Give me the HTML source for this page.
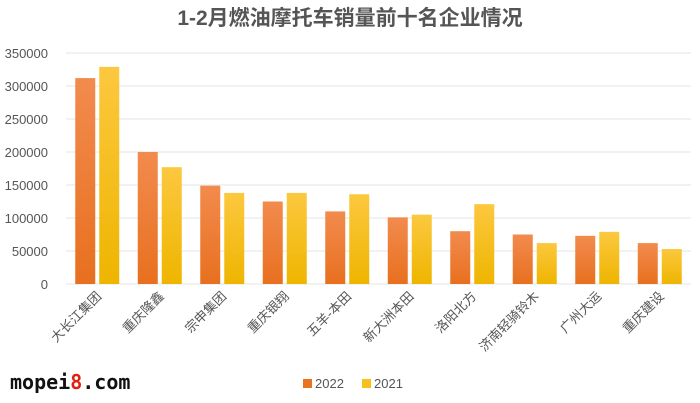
<!DOCTYPE html>
<html><head><meta charset="utf-8"><style>
body{margin:0;background:#fff;}
svg{display:block;font-family:"Liberation Sans","Noto Sans CJK SC",sans-serif;}
</style></head><body>
<svg id="c" width="700" height="403">
<defs>
<linearGradient id="go" x1="0" y1="0" x2="0" y2="1"><stop offset="0" stop-color="#f28b4e"/><stop offset="1" stop-color="#e8701f"/></linearGradient>
<linearGradient id="gy" x1="0" y1="0" x2="0" y2="1"><stop offset="0" stop-color="#fcc83f"/><stop offset="1" stop-color="#eeb500"/></linearGradient>
</defs>
<text x="350" y="25" text-anchor="middle" font-size="21" font-weight="bold" fill="#555">1-2月燃油摩托车销量前十名企业情况</text>
<g id="grid"></g><g id="bars"></g><g id="xl"></g>
<text x="10" y="389" font-family="'DejaVu Sans Mono',monospace" font-size="20" font-weight="bold" fill="#111">mopei<tspan fill="#e02010">8</tspan>.com</text>
<g>
<rect x="303" y="379" width="9" height="9" fill="#e8741f"/>
<text x="315" y="388" font-size="13" fill="#555">2022</text>
<rect x="362" y="379" width="9" height="9" fill="#f6c21a"/>
<text x="374" y="388" font-size="13" fill="#555">2021</text>
</g>
</svg>
<script>
const categories=["大长江集团","重庆隆鑫","宗申集团","重庆银翔","五羊-本田","新大洲本田","洛阳北方","济南轻骑铃木","广州大运","重庆建设"];
const s2022=[312000,200000,149000,125000,110000,101000,80000,75000,73000,62000];
const s2021=[329000,177000,138000,138000,136000,105000,121000,62000,79000,53000];
const ticks=[0,50000,100000,150000,200000,250000,300000,350000];
const NS="http://www.w3.org/2000/svg";
const x0=66,x1=691,y0=284,y1=53,ymax=350000;
const y=v=>y0-(v/ymax)*(y0-y1);
const bw=(x1-x0)/categories.length;
function mk(t,a,p){const e=document.createElementNS(NS,t);for(const k in a)e.setAttribute(k,a[k]);p.appendChild(e);return e;}
const g=document.getElementById('grid'),b=document.getElementById('bars'),xl=document.getElementById('xl');
ticks.forEach(t=>{
 const l=mk('line',{x1:x0,x2:x1,y1:y(t),y2:y(t),stroke:'#e4e4e4','stroke-width':1},g);
 
 
 const tx=mk('text',{x:48,y:y(t)+5,'text-anchor':'end','font-size':13,fill:'#555'},g);
 tx.textContent=t;
 
 
});
categories.forEach((c,i)=>{
 const cx=x0+bw*(i+0.5);
 const r1=mk('rect',{x:cx-22,y:y(s2022[i]),width:20,height:y0-y(s2022[i]),fill:'url(#go)'},b);
 
 
 const r2=mk('rect',{x:cx+2,y:y(s2021[i]),width:20,height:y0-y(s2021[i]),fill:'url(#gy)'},b);
 
 
 const t=mk('text',{x:cx+5,y:297,'text-anchor':'end','font-size':13,fill:'#555',transform:`rotate(-45 ${cx+5} 297)`},xl);
 t.textContent=c;
 
 
});
</script>
</body></html>
